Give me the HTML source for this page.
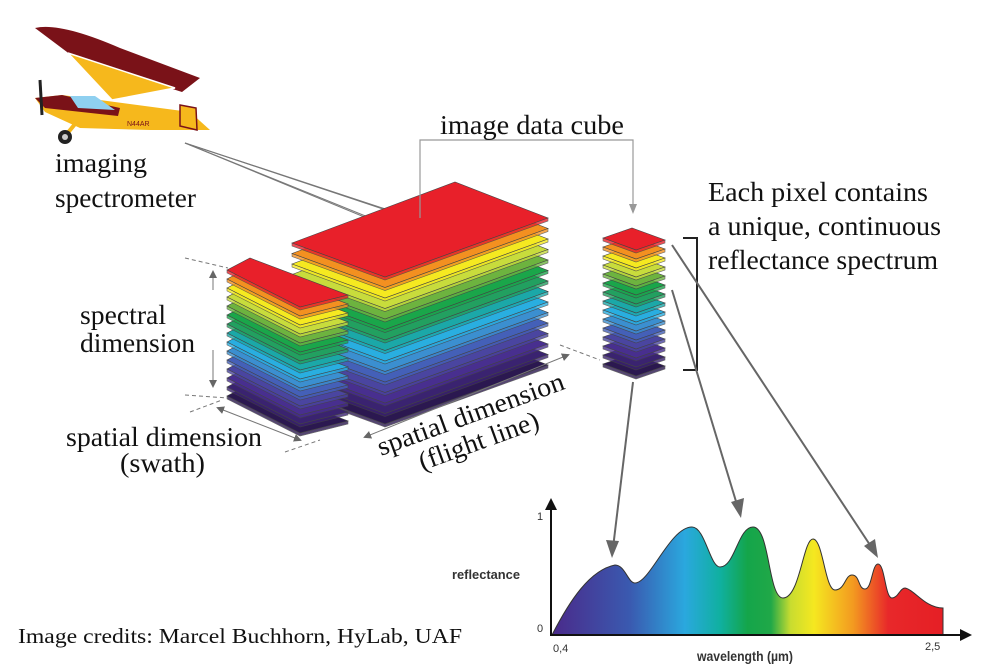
<!DOCTYPE html>
<html><head><meta charset="utf-8"><style>
html,body{margin:0;padding:0;background:#fff}
svg{display:block}
.s{font-family:"Liberation Serif",serif;fill:#111}
.a{font-family:"Liberation Sans",sans-serif;fill:#333}
</style></head><body>
<svg width="993" height="664" viewBox="0 0 993 664" xmlns="http://www.w3.org/2000/svg">
<defs>
<marker id="ar" markerWidth="8" markerHeight="8" refX="6" refY="4" orient="auto-start-reverse" markerUnits="userSpaceOnUse"><path d="M0,0 L8,4 L0,8 Z" fill="#666"/></marker>
<marker id="ab" markerWidth="12" markerHeight="12" refX="10" refY="6" orient="auto" markerUnits="userSpaceOnUse"><path d="M0,0 L12,6 L0,12 Z" fill="#111"/></marker>
<linearGradient id="sp" x1="552" x2="943" y1="0" y2="0" gradientUnits="userSpaceOnUse">
<stop offset="0" stop-color="#4a2a8a"/><stop offset="0.2" stop-color="#3a5ab0"/><stop offset="0.34" stop-color="#2aa8de"/><stop offset="0.43" stop-color="#10b0a0"/><stop offset="0.5" stop-color="#14a54a"/><stop offset="0.56" stop-color="#20a848"/><stop offset="0.61" stop-color="#c8dc30"/><stop offset="0.67" stop-color="#f5e820"/><stop offset="0.77" stop-color="#f39a20"/><stop offset="0.86" stop-color="#e8282a"/><stop offset="1" stop-color="#e51f25"/>
</linearGradient>
</defs>

<g>
<path d="M35,28 Q60,22 120,48 L200,78 L182,92 L75,58 Z" fill="#7a1218"/>
<path d="M68,53 L175,88 L112,100 Z" fill="#f6b81c" stroke="#fff" stroke-width="1.5"/>
<path d="M35,98 L62,95 L190,112 L210,130 L150,130 L80,128 L45,112 Z" fill="#f6b81c"/>
<path d="M180,105 L196,108 L197,130 L180,126 Z" fill="#f6b81c" stroke="#7a1218" stroke-width="1.5"/>
<path d="M35,98 L62,95 L120,108 L118,116 L45,108 Z" fill="#7a1218"/>
<path d="M70,96 L95,96 L115,110 L78,108 Z" fill="#8fd0f0"/>
<line x1="40" y1="80" x2="42" y2="115" stroke="#222" stroke-width="3"/>
<line x1="80" y1="118" x2="66" y2="135" stroke="#f6b81c" stroke-width="4"/>
<circle cx="65" cy="137" r="7" fill="#222"/><circle cx="65" cy="137" r="3" fill="#ccc"/>
<text x="127" y="126" font-size="7" fill="#7a1218" font-family="Liberation Sans">N44AR</text>
</g>
<g stroke="#777" stroke-width="1" fill="none">
<line x1="185" y1="143" x2="405" y2="232"/>
<line x1="185" y1="143" x2="420" y2="240"/>
<line x1="185" y1="143" x2="440" y2="228"/>
<line x1="185" y1="143" x2="425" y2="222"/>
</g>

<g id="cubes" stroke="#444" stroke-width="0.6"></g>

<g stroke="#777" stroke-width="1" fill="none">
<line x1="185" y1="258" x2="228" y2="268" stroke-dasharray="4,3"/>
<line x1="185" y1="395" x2="228" y2="398" stroke-dasharray="4,3"/>
<line x1="213" y1="290" x2="213" y2="272" marker-end="url(#ar)"/>
<line x1="213" y1="350" x2="213" y2="386" marker-end="url(#ar)"/>
<line x1="190" y1="412" x2="222" y2="400" stroke-dasharray="4,3"/>
<line x1="285" y1="452" x2="320" y2="440" stroke-dasharray="4,3"/>
<line x1="218" y1="408" x2="300" y2="440" marker-start="url(#ar)" marker-end="url(#ar)"/>
<line x1="365" y1="437" x2="568" y2="355" marker-start="url(#ar)" marker-end="url(#ar)"/>
<line x1="560" y1="345" x2="600" y2="360" stroke-dasharray="4,3"/>
</g>

<g stroke="#999" stroke-width="1.2" fill="none">
<polyline points="420,218 420,140 633,140 633,212"/>
</g>
<path d="M629,204 L633,214 L637,204 Z" fill="#999"/>
<polyline points="683,238 697,238 697,370 683,370" stroke="#222" stroke-width="2" fill="none"/>
<g stroke="#666" stroke-width="2" fill="none">
<line x1="633" y1="382" x2="613" y2="548"/>
<line x1="672" y1="290" x2="738" y2="508"/>
<line x1="672" y1="245" x2="872" y2="548"/>
</g>
<path d="M606,540 L612,558 L619,541 Z" fill="#666"/>
<path d="M731,502 L741,518 L744,498 Z" fill="#666"/>
<path d="M864,546 L878,558 L875,539 Z" fill="#666"/>

<path d="M552,635 C570,600 590,570 615,565 C625,565 628,583 635,583 C650,583 670,527 692,527 C705,527 710,567 720,567 C735,567 738,527 753,527 C770,527 768,598 783,598 C800,598 803,539 813,539 C823,539 825,590 835,590 C845,590 845,575 852,575 C860,575 858,589 865,589 C872,589 872,564 878,564 C885,564 885,598 892,598 C898,598 900,588 905,588 C915,590 925,608 943,608 L943,635 Z" fill="url(#sp)" stroke="#333" stroke-width="1"/>
<line x1="551" y1="635" x2="551" y2="500" stroke="#111" stroke-width="2" marker-end="url(#ab)"/>
<line x1="550" y1="635" x2="970" y2="635" stroke="#111" stroke-width="2" marker-end="url(#ab)"/>
<text class="a" x="452" y="579" font-size="13" font-weight="bold" textLength="68" lengthAdjust="spacingAndGlyphs">reflectance</text>
<text class="a" x="537" y="520" font-size="11">1</text>
<text class="a" x="537" y="632" font-size="11">0</text>
<text class="a" x="553" y="652" font-size="11">0,4</text>
<text class="a" x="925" y="650" font-size="11">2,5</text>
<text class="a" x="697" y="661" font-size="14" font-weight="bold" textLength="96" lengthAdjust="spacingAndGlyphs">wavelength (µm)</text>

<g class="s" font-size="27">
<text x="55" y="172" textLength="92" lengthAdjust="spacingAndGlyphs">imaging</text>
<text x="55" y="207" textLength="141" lengthAdjust="spacingAndGlyphs">spectrometer</text>
<text x="440" y="134" textLength="184" lengthAdjust="spacingAndGlyphs">image data cube</text>
<text x="708" y="201" textLength="220" lengthAdjust="spacingAndGlyphs">Each pixel contains</text>
<text x="708" y="235" textLength="233" lengthAdjust="spacingAndGlyphs">a unique, continuous</text>
<text x="708" y="269" textLength="230" lengthAdjust="spacingAndGlyphs">reflectance spectrum</text>
<text x="80" y="324" textLength="86" lengthAdjust="spacingAndGlyphs">spectral</text>
<text x="80" y="352" textLength="115" lengthAdjust="spacingAndGlyphs">dimension</text>
<text x="66" y="446" textLength="196" lengthAdjust="spacingAndGlyphs">spatial dimension</text>
<text x="120" y="472" textLength="85" lengthAdjust="spacingAndGlyphs">(swath)</text>
<g transform="translate(381,456) rotate(-20)"><text x="0" y="0" textLength="197" lengthAdjust="spacingAndGlyphs">spatial dimension</text><text x="34" y="28" textLength="126" lengthAdjust="spacingAndGlyphs">(flight line)</text></g>
<text x="18" y="643" font-size="21" textLength="444" lengthAdjust="spacingAndGlyphs">Image credits: Marcel Buchhorn, HyLab, UAF</text>
</g>

<script>
var cols=["#2b1850","#3a2370","#482f8f","#4a45a0","#4460b8","#3b8fd0","#29aee0","#1ba8a8","#22a060","#1aa64a","#6db33f","#c8dc3c","#f5e920","#f39020","#e8202a"];
var g=document.getElementById('cubes');var NS="http://www.w3.org/2000/svg";
function stack(L,T,R,B,dy){
 for(var i=0;i<15;i++){var o=(14-i)*dy;
  var p=document.createElementNS(NS,'polygon');
  p.setAttribute('points',[L[0],L[1]+o,T[0],T[1]+o,R[0],R[1]+o,B[0],B[1]+o].join(' '));
  p.setAttribute('fill',cols[i]);g.appendChild(p);
  var q=document.createElementNS(NS,'polygon');
  q.setAttribute('points',[L[0],L[1]+o,B[0],B[1]+o,R[0],R[1]+o,R[0],R[1]+o+3,B[0],B[1]+o+3,L[0],L[1]+o+3].join(' '));
  q.setAttribute('fill',cols[i]);q.setAttribute('opacity','0.8');g.appendChild(q);}
}
stack([292,243],[455,182],[548,218],[385,277],10.5);
stack([227,270],[250,258],[348,295],[300,307],9);
stack([603,238],[632,228],[665,240],[636,250],9);
</script>
</svg>
</body></html>
